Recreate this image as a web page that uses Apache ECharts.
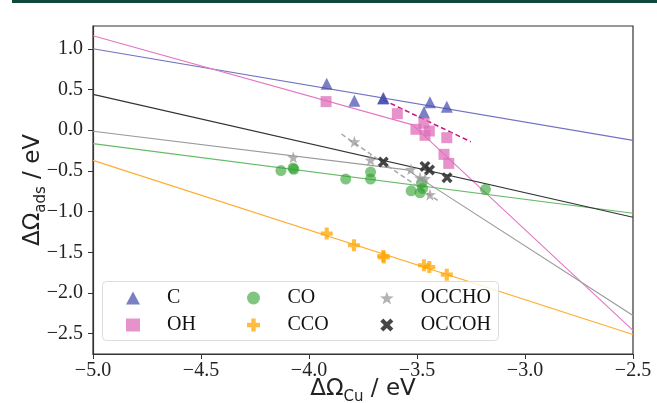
<!DOCTYPE html>
<html>
<head>
<meta charset="utf-8">
<script src="https://cdn.jsdelivr.net/npm/echarts@6/dist/echarts.min.js"></script>
<style>
  html, body { margin: 0; padding: 0; background: #fff; }
  #chart { width: 657px; height: 403px; }
</style>
</head>
<body>
<div id="chart"></div>
<script>
// 刻度
const xTicks = [-5.0, -4.5, -4.0, -3.5, -3.0, -2.5]
const yTicks = [-2.5, -2.0, -1.5, -1.0, -0.5, 0.0, 0.5, 1.0]

// 散点数据 (ΔΩCu, ΔΩads)
const cX = [-3.918, -3.790, -3.657, -3.655, -3.440, -3.468, -3.362]
const cY = [0.569, 0.363, 0.388, 0.395, 0.344, 0.220, 0.289]
const ohX = [-3.921, -3.591, -3.468, -3.505, -3.443, -3.463, -3.362, -3.375, -3.353]
const ohY = [0.351, 0.203, 0.085, 0.011, -0.010, -0.063, -0.092, -0.297, -0.408]
const coX = [-4.130, -4.074, -4.070, -3.830, -3.715, -3.715, -3.527, -3.486, -3.479, -3.474, -3.183]
const coY = [-0.496, -0.466, -0.480, -0.601, -0.515, -0.601, -0.745, -0.770, -0.647, -0.716, -0.727]
const ccoX = [-3.918, -3.792, -3.656, -3.654, -3.468, -3.443, -3.362]
const ccoY = [-1.270, -1.414, -1.546, -1.565, -1.660, -1.681, -1.775]
const occhoX = [-4.073, -3.790, -3.715, -3.528, -3.486, -3.463, -3.440]
const occhoY = [-0.334, -0.142, -0.367, -0.481, -0.585, -0.593, -0.792]
const occohX = [-3.656, -3.463, -3.442, -3.361]
const occohY = [-0.392, -0.445, -0.490, -0.583]

// 拟合线 (从图上读出的端点)
const cFitX = [-5.0, -2.5]
const cFitY = [1.00, -0.125]
const ohFitX = [-5.0, -3.52, -2.5]
const ohFitY = [1.16, 0.065, -2.46]
const coFitX = [-5.0, -2.5]
const coFitY = [-0.165, -1.02]
const ccoFitX = [-5.0, -2.5]
const ccoFitY = [-0.371, -2.51]
const occhoFitX = [-5.0, -3.546, -2.5]
const occhoFitY = [-0.014, -0.488, -2.276]
const occohFitX = [-5.0, -2.5]
const occohFitY = [0.44, -1.07]
// 局部虚线
const ohDashX = [-3.656, -3.251]
const ohDashY = [0.372, -0.142]
const occhoDashX = [-3.85, -3.40]
const occhoDashY = [-0.047, -0.87]

const zip = (xs, ys) => xs.map((x, i) => [x, ys[i]])
const minus = (v) => (v < 0 ? '\u2212' + Math.abs(v).toFixed(1) : v.toFixed(1))

const starPath = 'path://M0,-10 L2.35,-3.24 L9.51,-3.09 L3.8,1.24 L5.88,8.09 L0,4 L-5.88,8.09 L-3.8,1.24 L-9.51,-3.09 L-2.35,-3.24 Z'
const plusPath = 'path://M-3.4,-10 H3.4 V-3.4 H10 V3.4 H3.4 V10 H-3.4 V3.4 H-10 V-3.4 H-3.4 Z'
const crossPath = 'path://M-5.5,-10 L0,-4.5 L5.5,-10 L10,-5.5 L4.5,0 L10,5.5 L5.5,10 L0,4.5 L-5.5,10 L-10,5.5 L-4.5,0 L-10,-5.5 Z'

const serif = 'Liberation Serif'
const nameRich = {
  m: { fontFamily: 'DejaVu Sans', fontSize: 23, color: '#222', verticalAlign: 'top', lineHeight: 27 },
  s: { fontFamily: 'DejaVu Sans', fontSize: 15, color: '#222', verticalAlign: 'top', padding: [12, 0, 0, 0] }
}

function fitLine (name, xs, ys, color, dashed) {
  return {
    name: name,
    type: 'line',
    data: zip(xs, ys),
    symbol: 'none',
    silent: true,
    z: 1,
    lineStyle: { color: color, width: dashed ? 1.5 : 1.1, type: dashed ? [5, 3] : 'solid' },
    animation: false
  }
}

function dots (name, xs, ys, symbol, size, color, opacity) {
  return {
    name: name,
    type: 'scatter',
    data: zip(xs, ys),
    symbol: symbol,
    symbolSize: size,
    z: 2,
    itemStyle: { color: color, opacity: opacity },
    animation: false
  }
}

function legendCol (names, left) {
  return {
    data: names,
    orient: 'vertical',
    left: left,
    top: 283,
    itemWidth: 14,
    itemHeight: 13,
    itemGap: 7,
    selectedMode: false,
    textStyle: { fontFamily: serif, fontSize: 20, color: '#111', lineHeight: 20, padding: [0, 0, 0, 22] }
  }
}

const chart = echarts.init(document.getElementById('chart'))
chart.setOption({
  backgroundColor: '#fff',
  animation: false,
  grid: {
    left: 93, right: 24, top: 26, bottom: 49,
    outerBoundsMode: 'none',
    containLabel: false,
    show: true, borderColor: '#333', borderWidth: 1.2
  },
  xAxis: {
    type: 'value',
    min: -5.0,
    max: -2.5,
    name: '{m|ΔΩ}{s|Cu}{m| / eV}',
    nameLocation: 'middle',
    nameMoveOverlap: false,
    nameGap: 24,
    nameTextStyle: { rich: nameRich },
    axisLine: { show: true, onZero: false, lineStyle: { color: '#333', width: 1.2 } },
    axisTick: { show: true, length: 5, customValues: xTicks, lineStyle: { color: '#333' } },
    axisLabel: { customValues: xTicks, fontFamily: serif, fontSize: 20, color: '#222', margin: 7, formatter: minus },
    splitLine: { show: false }
  },
  yAxis: {
    type: 'value',
    min: -2.75,
    max: 1.28,
    name: '{m|ΔΩ}{s|ads}{m| / eV}',
    nameLocation: 'middle',
    nameMoveOverlap: false,
    nameRotate: 90,
    nameGap: 44,
    nameTextStyle: { rich: nameRich },
    axisLine: { show: true, onZero: false, lineStyle: { color: '#333', width: 1.2 } },
    axisTick: { show: true, length: 5, customValues: yTicks, lineStyle: { color: '#333' } },
    axisLabel: { customValues: yTicks, fontFamily: serif, fontSize: 20, color: '#222', margin: 10, formatter: minus },
    splitLine: { show: false }
  },
  legend: [
    legendCol(['C', 'OH'], 121),
    legendCol(['CO', 'CCO'], 242),
    legendCol(['OCCHO', 'OCCOH'], 375)
  ],
  graphic: [
    { type: 'rect', left: 12, top: 0, shape: { width: 645, height: 3 }, style: { fill: '#0d4a3c' } },
    { type: 'rect', left: 102, top: 281, z: 3, shape: { width: 396, height: 59, r: 4 }, style: { fill: 'rgba(255,255,255,0.8)', stroke: '#dcdcdc', lineWidth: 1 } }
  ],
  series: [
    fitLine('C fit', cFitX, cFitY, '#7272c2'),
    fitLine('OH fit', ohFitX, ohFitY, '#e377c2'),
    fitLine('CO fit', coFitX, coFitY, '#66bb66'),
    fitLine('CCO fit', ccoFitX, ccoFitY, '#ffad33'),
    fitLine('OCCHO fit', occhoFitX, occhoFitY, '#9a9a9a'),
    fitLine('OCCOH fit', occohFitX, occohFitY, '#333333'),
    fitLine('OH local', ohDashX, ohDashY, '#c8117f', true),
    fitLine('OCCHO local', occhoDashX, occhoDashY, '#a8a8a8', true),
    dots('C', cX, cY, 'triangle', 12, '#4248ae', 0.7),
    dots('OH', ohX, ohY, 'rect', 11, '#dd6fba', 0.75),
    dots('CO', coX, coY, 'circle', 11, '#2ca02c', 0.6),
    dots('CCO', ccoX, ccoY, plusPath, 12, '#ffa500', 0.75),
    dots('OCCHO', occhoX, occhoY, starPath, 12, '#9a9a9a', 0.75),
    dots('OCCOH', occohX, occohY, crossPath, 11, '#333333', 0.9)
  ]
})
</script>
</body>
</html>
